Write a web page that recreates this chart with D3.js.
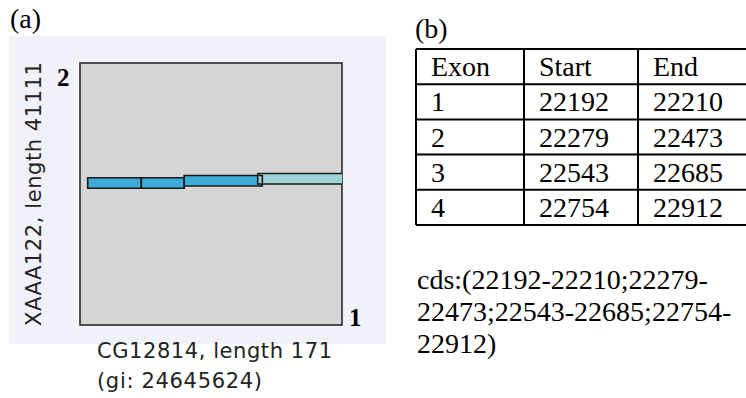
<!DOCTYPE html>
<html>
<head>
<meta charset="utf-8">
<script src="https://cdn.jsdelivr.net/npm/d3@7"></script>
<style>
  body { margin: 0; background: #fff; }
  .serif { font-family: "Liberation Serif", "Times New Roman", serif; fill: #000; }
  .sans  { font-family: "DejaVu Sans", sans-serif; fill: #222; }
</style>
</head>
<body>
<script>
//==========================================================//
//  DATA
//==========================================================//

// (a) alignment dot plot: query on x, genomic subject on y
var queryName = "CG12814", queryLength = 171, queryGi = "24645624";
var subjectName = "XAAA122", subjectLength = 41111;

// hits (query in residues, subject in bp)
var hitQueryStart = [5, 40, 68, 116];
var hitQueryEnd   = [40, 68, 119, 171];
var hitSubject    = [22280, 22280, 22640, 22950];
var hitType       = ["high", "high", "high", "low"];

// (b) exon table
var tableHeaders = ["Exon", "Start", "End"];
var exonNumbers  = [1, 2, 3, 4];
var exonStarts   = [22192, 22279, 22543, 22754];
var exonEnds     = [22210, 22473, 22685, 22912];

//==========================================================//
//  SVG
//==========================================================//
var W = 746, H = 398;
var svg = d3.select("body").append("svg")
    .attr("width", W)
    .attr("height", H);

svg.append("rect").attr("width", W).attr("height", H).attr("fill", "#fff");

//==========================================================//
//  PANEL (a)
//==========================================================//
svg.append("text").attr("class", "serif")
    .attr("x", 10).attr("y", 28)
    .style("font-size", "28px")
    .text("(a)");

// light backdrop
svg.append("rect")
    .attr("x", 9).attr("y", 36)
    .attr("width", 377).attr("height", 308)
    .attr("fill", "#f1f1fa");

var plot = {left: 80, right: 342, top: 63, bottom: 325};

var x = d3.scaleLinear()
    .domain([0, queryLength])
    .range([plot.left, plot.right]);

var y = d3.scaleLinear()
    .domain([0, subjectLength])
    .range([plot.bottom, plot.top]);

// plot area
svg.append("rect")
    .attr("x", plot.left).attr("y", plot.top)
    .attr("width", plot.right - plot.left)
    .attr("height", plot.bottom - plot.top)
    .attr("fill", "#d5d5d5")
    .attr("stroke", "#2a2a2a")
    .attr("stroke-width", 1.6);

// hits
var hits = hitQueryStart.map(function(d, i) {
    return {qs: d, qe: hitQueryEnd[i], s: hitSubject[i], type: hitType[i]};
});
var barH = 10.5;

var hitG = svg.append("g");
hitG.selectAll("rect.hit")
    .data(hits)
    .join("rect")
        .attr("class", "hit")
        .attr("x", function(d) { return x(d.qs); })
        .attr("y", function(d) { return y(d.s) - barH / 2; })
        .attr("width", function(d) { return x(d.qe) - x(d.qs); })
        .attr("height", barH)
        .attr("fill", function(d) { return d.type == "high" ? "#3daad7" : "#9fd3d9"; });

// outlines (open on the right when the hit runs to the end of the query)
hitG.selectAll("path.hitline")
    .data(hits)
    .join("path")
        .attr("class", "hitline")
        .attr("fill", "none")
        .attr("stroke", "#1a1a1a")
        .attr("stroke-width", 1.6)
        .attr("d", function(d) {
            var x0 = x(d.qs), x1 = x(d.qe), y0 = y(d.s) - barH / 2, y1 = y0 + barH;
            if (d.qe >= queryLength)
                return "M" + x1 + "," + y0 + "H" + x0 + "V" + y1 + "H" + x1;
            return "M" + x0 + "," + y0 + "H" + x1 + "V" + y1 + "H" + x0 + "Z";
        });

// corner marks
svg.append("text").attr("class", "serif")
    .attr("x", 57).attr("y", 86)
    .style("font-size", "25px").style("font-weight", "bold")
    .text("2");
svg.append("text").attr("class", "serif")
    .attr("x", 349).attr("y", 326)
    .style("font-size", "25px").style("font-weight", "bold")
    .text("1");

// axis titles
svg.append("text").attr("class", "sans")
    .attr("transform", "translate(41," + ((plot.top + plot.bottom) / 2) + ") rotate(-90)")
    .attr("text-anchor", "middle")
    .attr("textLength", 264).attr("lengthAdjust", "spacing")
    .style("font-size", "21px")
    .text(subjectName + ", length " + subjectLength);

svg.append("text").attr("class", "sans")
    .attr("x", 97).attr("y", 358)
    .attr("textLength", 235).attr("lengthAdjust", "spacing")
    .style("font-size", "21px")
    .text(queryName + ", length " + queryLength);

svg.append("text").attr("class", "sans")
    .attr("x", 97).attr("y", 388)
    .attr("textLength", 165).attr("lengthAdjust", "spacing")
    .style("font-size", "21px")
    .text("(gi: " + queryGi + ")");

//==========================================================//
//  PANEL (b)
//==========================================================//
svg.append("text").attr("class", "serif")
    .attr("x", 415).attr("y", 38)
    .style("font-size", "28px")
    .text("(b)");

var rows = [tableHeaders].concat(exonNumbers.map(function(d, i) {
    return [d, exonStarts[i], exonEnds[i]];
}));

var colX = [416, 524, 638, 760];
var rowY = d3.scaleBand()
    .domain(d3.range(rows.length))
    .range([49, 225]);

var table = svg.append("g");

// horizontal rules
table.selectAll("line.h")
    .data(d3.range(rows.length + 1))
    .join("line")
        .attr("x1", colX[0]).attr("x2", W + 5)
        .attr("y1", function(d) { return 49 + d * rowY.bandwidth(); })
        .attr("y2", function(d) { return 49 + d * rowY.bandwidth(); })
        .attr("stroke", "#000").attr("stroke-width", 2);

// vertical rules
table.selectAll("line.v")
    .data(colX.slice(0, 3))
    .join("line")
        .attr("x1", function(d) { return d; }).attr("x2", function(d) { return d; })
        .attr("y1", 49).attr("y2", 225)
        .attr("stroke", "#000").attr("stroke-width", 2);

// cells
rows.forEach(function(r, ri) {
    table.selectAll(null)
        .data(r)
        .join("text")
            .attr("class", "serif")
            .attr("x", function(d, ci) { return colX[ci] + 15; })
            .attr("y", rowY(ri) + rowY.bandwidth() - 8)
            .style("font-size", "28px")
            .text(function(d) { return d; });
});

// cds string, wrapped after hyphens like the original
var cds = "cds:(" + exonStarts.map(function(d, i) { return d + "-" + exonEnds[i]; }).join(";") + ")";
var tokens = cds.match(/[^-]+-?/g);
var cdsLines = [], cur = "";
var probe = svg.append("text").attr("class", "serif").style("font-size", "28px");
tokens.forEach(function(t) {
    probe.text(cur + t);
    if (cur && probe.node().getComputedTextLength() > 330) {
        cdsLines.push(cur);
        cur = t;
    } else {
        cur = cur + t;
    }
});
cdsLines.push(cur);
probe.remove();

svg.selectAll("text.cds")
    .data(cdsLines)
    .join("text")
        .attr("class", "serif cds")
        .attr("x", 417)
        .attr("y", function(d, i) { return 289 + i * 32; })
        .style("font-size", "28px")
        .text(function(d) { return d; });
</script>
</body>
</html>
